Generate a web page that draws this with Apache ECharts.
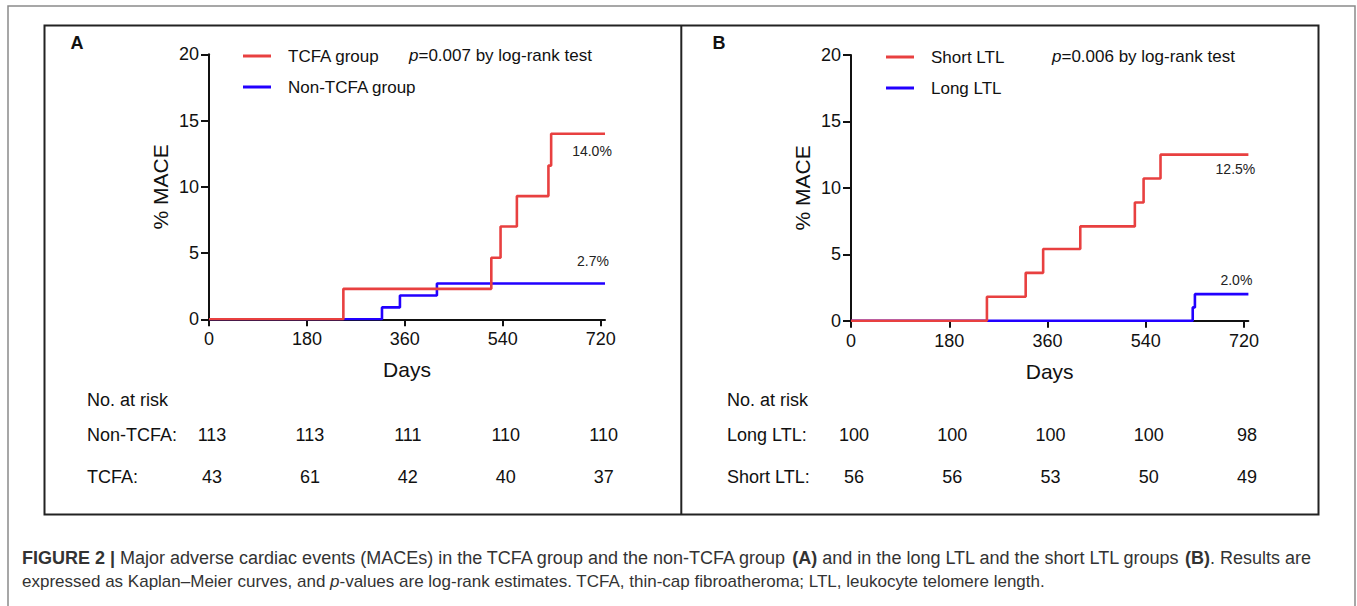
<!DOCTYPE html>
<html>
<head>
<meta charset="utf-8">
<title>Figure 2 - MACE</title>
<script src="https://cdn.jsdelivr.net/npm/echarts@6/dist/echarts.min.js"></script>
<style>
  html, body { margin: 0; padding: 0; background: #fff; }
  #main { width: 1357px; height: 606px; }
</style>
</head>
<body>
<div id="main"></div>
<script>
// tick labels
var dayTicks = [0, 180, 360, 540, 720];
var dayMax = 728;

// panel A: TCFA vs non-TCFA (step curves, % MACE)
var tcfaDays = [0, 247, 519, 536, 566, 624, 629, 728];
var tcfaPct = [0, 2.3, 4.65, 7.0, 9.3, 11.6, 14.0, 14.0];
var nonTcfaDays = [0, 318, 351, 419, 728];
var nonTcfaPct = [0, 0.9, 1.8, 2.7, 2.7];

// panel B: short vs long LTL
var shortDays = [0, 249, 320, 352, 420, 520, 536, 567, 728];
var shortPct = [0, 1.8, 3.6, 5.4, 7.1, 8.9, 10.7, 12.5, 12.5];
var longDays = [0, 626, 630, 728];
var longPct = [0, 1.0, 2.0, 2.0];

// number at risk
var nonTcfaRisk = [113, 113, 111, 110, 110];
var tcfaRisk = [43, 61, 42, 40, 37];
var longRisk = [100, 100, 100, 100, 98];
var shortRisk = [56, 56, 53, 50, 49];

var FONT = "'Liberation Sans', Arial, sans-serif";
var INK = '#111';
var RED = '#e84040';
var BLUE = '#2200ff';

function pairs(days, pct) {
	var out = [];
	for (var i = 0; i < days.length; i++) out.push([days[i], pct[i]]);
	return out;
}

function kmSeries(name, days, pct, color, idx, offset) {
	var last = days.length - 1;
	return {
		name: name, type: 'line', step: 'end',
		xAxisIndex: idx, yAxisIndex: idx,
		data: pairs(days, pct),
		showSymbol: false, symbol: 'none', silent: true, animation: false,
		lineStyle: { color: color, width: 2.6 },
		itemStyle: { color: color },
		markPoint: {
			symbol: 'circle', symbolSize: 0, silent: true, animation: false,
			data: [{ coord: [days[last], pct[last]], value: pct[last] }],
			label: {
				show: true, position: 'inside', offset: offset,
				formatter: function (p) { return p.value.toFixed(1) + '%'; },
				color: '#222', fontSize: 14, fontFamily: FONT
			}
		}
	};
}

function xAxis(idx) {
	return {
		gridIndex: idx, type: 'value', min: 0, max: dayMax,
		name: 'Days', nameLocation: 'middle', nameGap: 40,
		nameTextStyle: { fontSize: 21, color: INK, fontFamily: FONT },
		axisLine: { lineStyle: { color: INK, width: 2 } },
		axisTick: { length: 7, lineStyle: { color: INK, width: 2 }, customValues: dayTicks },
		axisLabel: { customValues: dayTicks, margin: 11, fontSize: 18, color: INK, fontFamily: FONT },
		splitLine: { show: false }
	};
}

function yAxis(idx) {
	return {
		gridIndex: idx, type: 'value', min: 0, max: 20, interval: 5,
		name: '% MACE', nameLocation: 'middle', nameGap: 38,
		nameTextStyle: { fontSize: 21, color: INK, fontFamily: FONT },
		axisLine: { show: true, lineStyle: { color: INK, width: 2 } },
		axisTick: { show: true, length: 8, lineStyle: { color: INK, width: 2 } },
		axisLabel: { margin: 10, fontSize: 18, color: INK, fontFamily: FONT },
		splitLine: { show: false }
	};
}

function legend(left, top, names) {
	return {
		orient: 'vertical', left: left, top: top, padding: 0,
		itemWidth: 28, itemHeight: 3, itemGap: 11, icon: 'rect',
		selectedMode: false, data: names,
		textStyle: { fontSize: 17, color: INK, fontFamily: FONT, lineHeight: 20, padding: [0, 0, 0, 12] }
	};
}

var chart = echarts.init(document.getElementById('main'), null, { renderer: 'svg' });

chart.setOption({
	animation: false,
	backgroundColor: '#fff',
	grid: [
		{ left: 209, top: 54.3, width: 396, height: 265 },
		{ left: 851, top: 55, width: 397.4, height: 265.7 }
	],
	xAxis: [xAxis(0), xAxis(1)],
	yAxis: [yAxis(0), yAxis(1)],
	legend: [
		legend(243, 46, ['TCFA group', 'Non-TCFA group']),
		legend(886, 47, ['Short LTL', 'Long LTL'])
	],
	series: [
		kmSeries('Non-TCFA group', nonTcfaDays, nonTcfaPct, BLUE, 0, [-12, -23]),
		kmSeries('TCFA group', tcfaDays, tcfaPct, RED, 0, [-13, 17]),
		kmSeries('Long LTL', longDays, longPct, BLUE, 1, [-12, -14]),
		kmSeries('Short LTL', shortDays, shortPct, RED, 1, [-13, 14])
	]
});

// frames, panel letters, p-values, risk tables, caption
var g = [];
g.push({ type: 'rect', shape: { x: 8, y: 6, width: 1347, height: 620 }, style: { fill: null, stroke: '#8a8a8a', lineWidth: 1.5 }, silent: true });
g.push({ type: 'rect', shape: { x: 44.5, y: 25.5, width: 1274, height: 489 }, style: { fill: null, stroke: '#222', lineWidth: 2 }, silent: true });
g.push({ type: 'line', shape: { x1: 681.3, y1: 25.5, x2: 681.3, y2: 514.5 }, style: { stroke: '#222', lineWidth: 2 }, silent: true });

function txt(x, y, text, opt) {
	opt = opt || {};
	return {
		type: 'text', silent: true,
		style: {
			x: x, y: y, text: text,
			fill: opt.fill || INK, fontSize: opt.size || 18, fontFamily: FONT,
			fontWeight: opt.weight || 'normal',
			align: opt.align || 'left', verticalAlign: 'middle',
			rich: opt.rich
		}
	};
}

g.push(txt(77, 43, 'A', { size: 18, weight: 'bold', align: 'center' }));
g.push(txt(719, 43, 'B', { size: 18, weight: 'bold', align: 'center' }));

var pRich = { i: { fontStyle: 'italic', fontSize: 17, fontFamily: FONT, fill: INK } };
g.push(txt(409, 55, '{i|p}=0.007 by log-rank test', { size: 17, rich: pRich }));
g.push(txt(1052, 56, '{i|p}=0.006 by log-rank test', { size: 17, rich: pRich }));

function riskTable(idx, left, rows) {
	g.push(txt(left, 400, 'No. at risk'));
	rows.forEach(function (row, r) {
		var y = r === 0 ? 435 : 477;
		g.push(txt(left, y, row.label));
		row.values.forEach(function (v, c) {
			var px = chart.convertToPixel({ xAxisIndex: idx }, dayTicks[c]);
			g.push(txt(px + 3, y, String(v), { align: 'center' }));
		});
	});
}
riskTable(0, 87, [{ label: 'Non-TCFA:', values: nonTcfaRisk }, { label: 'TCFA:', values: tcfaRisk }]);
riskTable(1, 727, [{ label: 'Long LTL:', values: longRisk }, { label: 'Short LTL:', values: shortRisk }]);

function capStyle(size) {
	return {
		b: { fontWeight: 'bold', fontSize: size, fontFamily: FONT, fill: '#333' },
		i: { fontStyle: 'italic', fontSize: size, fontFamily: FONT, fill: '#333' },
		n: { fontSize: size, fontFamily: FONT, fill: '#333' }
	};
}
g.push(txt(22, 558, '{b|FIGURE 2 |}{n| Major adverse cardiac events (MACEs) in the TCFA group and the non-TCFA group }{b|(A)}{n| and in the long LTL and the short LTL groups }{b|(B)}{n|. Results are}',
	{ size: 18, fill: '#333', rich: capStyle(18) }));
g.push(txt(22, 581, '{n|expressed as Kaplan\u2013Meier curves, and }{i|p}{n|-values are log-rank estimates. TCFA, thin-cap fibroatheroma; LTL, leukocyte telomere length.}',
	{ size: 17, fill: '#333', rich: capStyle(17) }));

chart.setOption({ graphic: g });
</script>
</body>
</html>
